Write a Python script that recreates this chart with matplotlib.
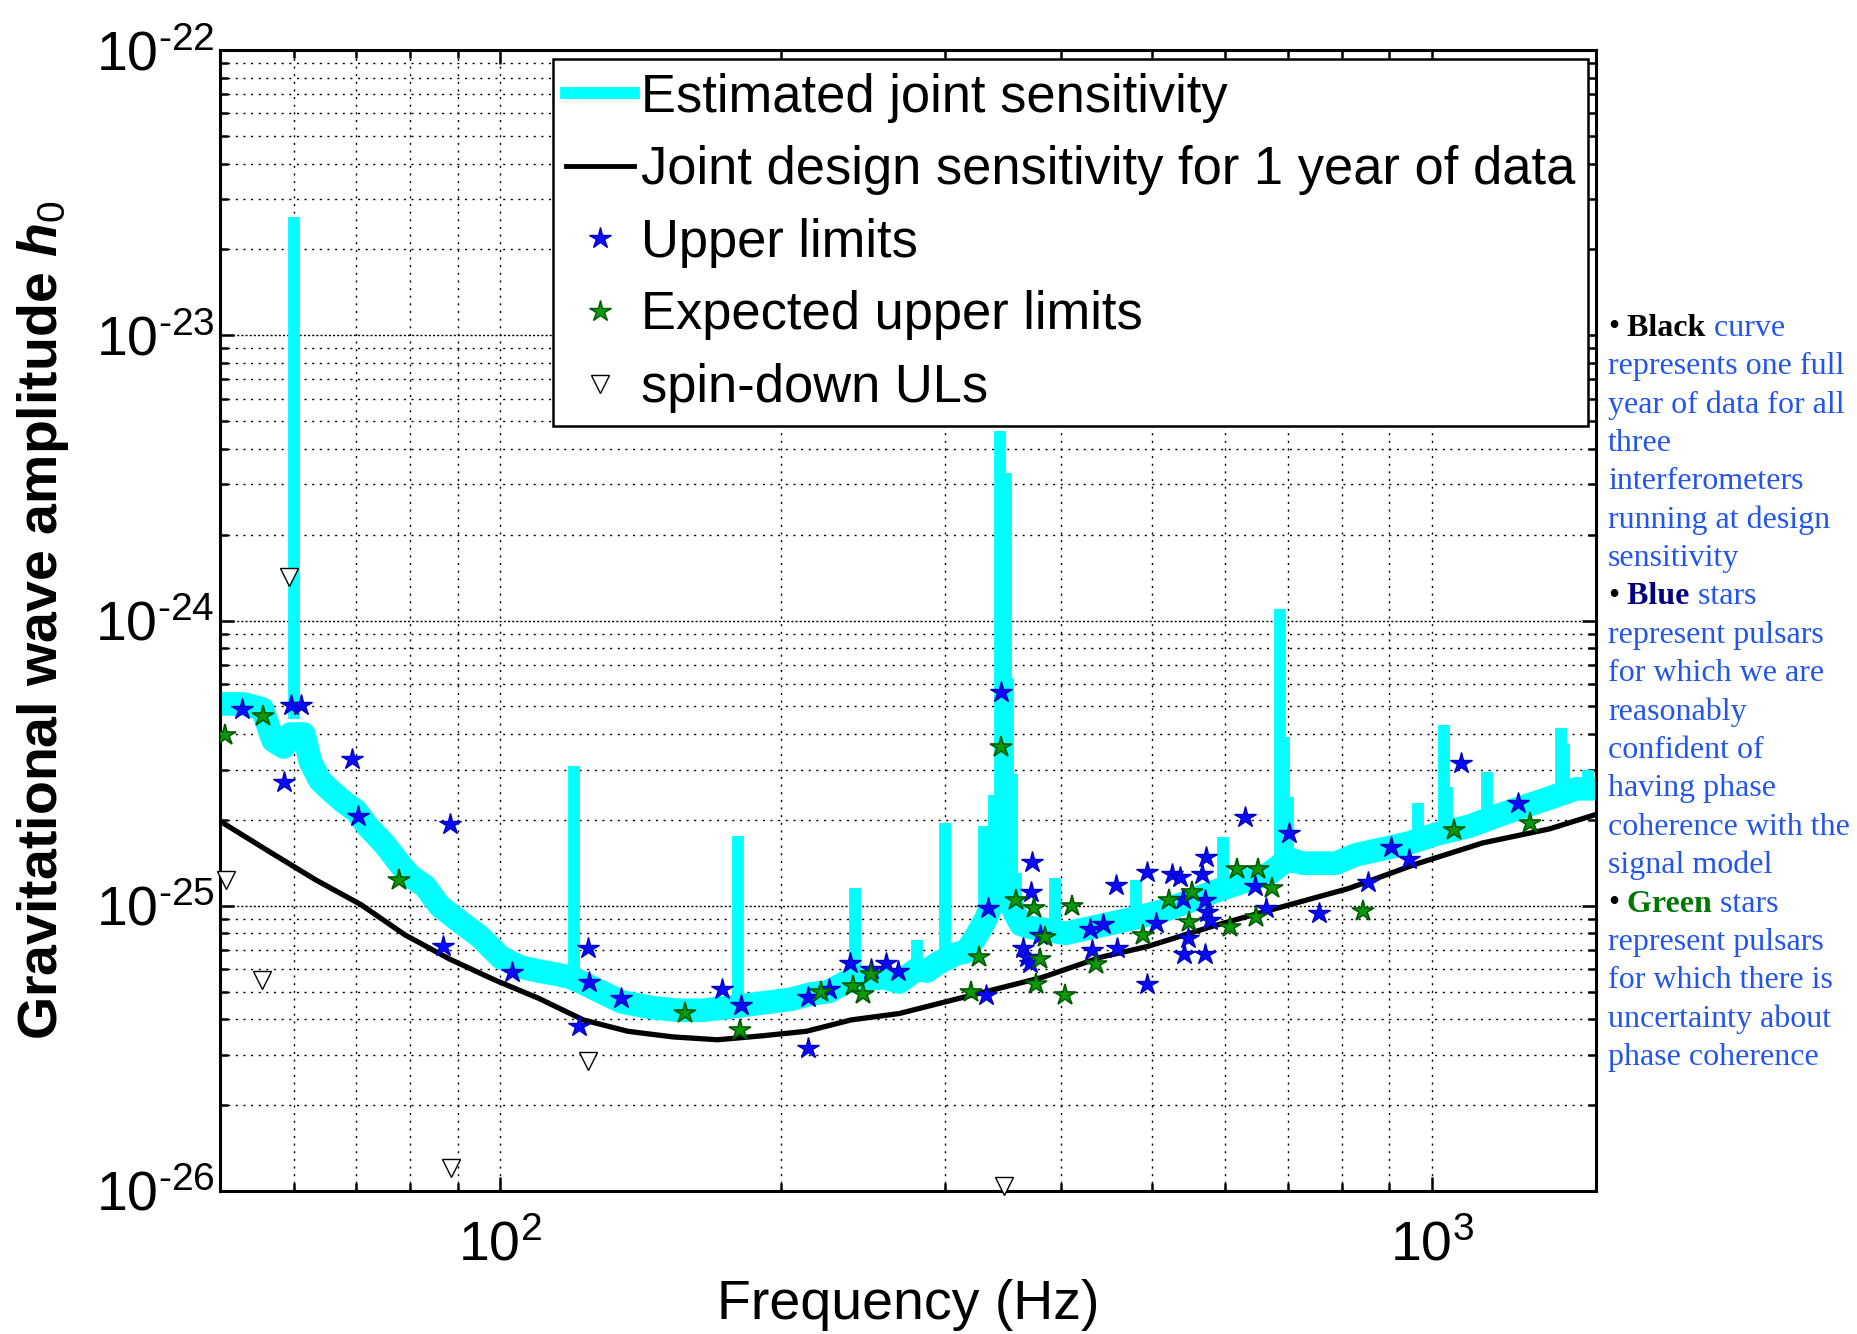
import math
import matplotlib
matplotlib.use('Agg')
import matplotlib.pyplot as plt
from matplotlib.lines import Line2D
from matplotlib.ticker import NullFormatter, FuncFormatter

plt.rcParams['font.family'] = ['Liberation Sans', 'DejaVu Sans']
plt.rcParams['mathtext.fontset'] = 'custom'
plt.rcParams['mathtext.rm'] = 'Liberation Sans'
plt.rcParams['mathtext.it'] = 'Liberation Sans:italic:bold'
plt.rcParams['mathtext.bf'] = 'Liberation Sans:bold'
plt.rcParams['axes.unicode_minus'] = False

# estimated joint sensitivity, centre of the cyan band
band_freq = [50, 53, 55.5, 57, 58.5, 59.5, 61.5, 62.5, 64, 66, 68, 70, 72, 75, 78,
             80, 83, 86, 90, 95, 100, 105, 110, 115, 119, 122, 128, 135, 145, 155,
             165, 175, 185, 195, 205, 215, 225, 235, 245, 258, 268, 280, 287, 295,
             309, 316, 324, 332, 338, 349, 356, 362, 370, 380, 404, 425, 454, 483,
             514, 546, 583, 635, 667, 701, 726, 788, 829, 884, 945, 1009, 1096,
             1191, 1293, 1428, 1500]
band_h = [5.1e-25, 5.1e-25, 4.9e-25, 3.8e-25, 3.6e-25, 4.0e-25, 4.0e-25, 3.2e-25,
          2.75e-25, 2.5e-25, 2.3e-25, 2.15e-25, 1.9e-25, 1.65e-25, 1.4e-25,
          1.27e-25, 1.17e-25, 1.0e-25, 8.9e-26, 7.8e-26, 6.6e-26, 6.1e-26, 5.9e-26,
          5.75e-26, 5.6e-26, 5.4e-26, 5.0e-26, 4.6e-26, 4.4e-26, 4.3e-26, 4.3e-26,
          4.4e-26, 4.5e-26, 4.6e-26, 4.7e-26, 4.9e-26, 5.0e-26, 5.4e-26, 5.5e-26,
          5.6e-26, 5.4e-26, 6.0e-26, 5.9e-26, 6.3e-26, 6.8e-26, 6.9e-26, 7.8e-26,
          9.0e-26, 1.05e-25, 1.2e-25, 9.5e-26, 8.6e-26, 8.4e-26, 8.3e-26, 8.0e-26,
          8.3e-26, 8.7e-26, 9.1e-26, 9.6e-26, 1.03e-25, 1.12e-25, 1.23e-25,
          1.29e-25, 1.46e-25, 1.41e-25, 1.41e-25, 1.51e-25, 1.58e-25, 1.66e-25,
          1.78e-25, 1.9e-25, 2.1e-25, 2.3e-25, 2.57e-25, 2.57e-25]

# narrow lines sticking out of the band
line_freq = [60, 120, 180, 240, 280, 300, 330, 339, 343.5, 348.5, 351, 354, 357.5,
             394, 481, 597, 687, 694, 700, 966, 1030, 1037, 1146, 1376, 1385, 1470]
line_bottom = [4.5e-25, 5.4e-26, 4.5e-26, 5.4e-26, 5.6e-26, 6.3e-26, 8e-26, 1e-25,
               1e-25, 1e-25, 1e-25, 1e-25, 9e-26, 8e-26, 9e-26, 1.15e-25, 1.3e-25,
               1.3e-25, 1.3e-25, 1.65e-25, 1.75e-25, 1.75e-25, 2e-25, 2.45e-25,
               2.45e-25, 2.5e-25]
line_top = [2.6e-23, 3.1e-25, 1.75e-25, 1.15e-25, 7.6e-26, 1.95e-25, 1.9e-25,
            2.45e-25, 4.6e-24, 3.3e-24, 6.3e-25, 2.9e-25, 1.3e-25, 1.25e-25,
            1.23e-25, 1.74e-25, 1.1e-24, 3.9e-25, 2.4e-25, 2.3e-25, 4.3e-25,
            2.6e-25, 2.95e-25, 4.2e-25, 3.7e-25, 3.0e-25]

# joint design sensitivity, 1 year
design_freq = [50, 56.8, 63.4, 70.8, 79, 88.2, 98.5, 110, 122.7, 137, 153, 171, 191,
               213, 238, 268, 300, 340, 381, 441, 495, 583, 689, 814, 961, 1133,
               1337, 1500]
design_h = [1.98e-25, 1.53e-25, 1.23e-25, 1.01e-25, 7.9e-26, 6.5e-26, 5.5e-26,
            4.73e-26, 3.98e-26, 3.63e-26, 3.47e-26, 3.39e-26, 3.5e-26, 3.63e-26,
            3.98e-26, 4.19e-26, 4.6e-26, 5.1e-26, 5.6e-26, 6.6e-26, 7.2e-26,
            8.5e-26, 9.9e-26, 1.15e-25, 1.4e-25, 1.66e-25, 1.86e-25, 2.09e-25]

# upper limits (blue)
ul_freq = [52.8, 59.6, 61.0, 58.6, 69.3, 70.4, 88.2, 86.7, 102.9, 124, 124.4, 121.4,
           134.8, 172.7, 181, 214, 214, 225, 237, 250, 259, 267, 332, 334, 345, 372,
           371, 364, 367, 370, 379, 429, 443, 431, 459, 458, 494, 494, 506, 526, 536,
           540, 566, 572, 570, 574, 578, 541, 570, 547, 630, 646, 663, 702, 757, 854,
           904, 945, 1074, 1236]
ul_h = [4.9e-25, 5.07e-25, 5.07e-25, 2.71e-25, 3.26e-25, 2.07e-25, 1.94e-25, 7.2e-26,
        5.85e-26, 7.1e-26, 5.4e-26, 3.8e-26, 4.73e-26, 5.1e-26, 4.47e-26, 4.8e-26,
        3.16e-26, 5.1e-26, 6.3e-26, 6.0e-26, 6.3e-26, 5.9e-26, 4.87e-26, 9.8e-26,
        5.6e-25, 1.42e-25, 1.12e-25, 7.1e-26, 6.6e-26, 6.3e-26, 7.9e-26, 8.3e-26,
        8.6e-26, 7.0e-26, 7.1e-26, 1.18e-25, 1.31e-25, 5.3e-26, 8.7e-26, 1.29e-25,
        1.26e-25, 1.06e-25, 1.29e-25, 1.48e-25, 1.05e-25, 9.5e-26, 8.9e-26, 6.8e-26,
        6.8e-26, 7.7e-26, 2.04e-25, 1.17e-25, 9.8e-26, 1.8e-25, 9.4e-26, 1.21e-25,
        1.61e-25, 1.46e-25, 3.16e-25, 2.29e-25]

# expected upper limits (green)
exp_freq = [50.6, 55.6, 77.9, 157.9, 180.7, 221, 239, 245, 250, 320, 326, 345, 358,
            374, 376, 379, 384, 404, 411, 436, 490, 522, 548, 552, 607, 617, 647, 650,
            673, 843, 1056, 1275]
exp_h = [3.98e-25, 4.63e-25, 1.23e-25, 4.2e-26, 3.68e-26, 5.0e-26, 5.25e-26, 4.9e-26,
         5.75e-26, 5.0e-26, 6.6e-26, 3.6e-25, 1.05e-25, 9.8e-26, 5.3e-26, 6.5e-26,
         7.8e-26, 4.87e-26, 1.0e-25, 6.25e-26, 7.9e-26, 1.05e-25, 8.75e-26, 1.12e-25,
         8.4e-26, 1.35e-25, 9.1e-26, 1.34e-25, 1.15e-25, 9.6e-26, 1.85e-25, 1.95e-25]

# spin-down upper limits
sd_freq = [59.3, 50.8, 55.5, 88.5, 124, 347]
sd_h = [1.42e-24, 1.23e-25, 5.5e-26, 1.2e-26, 2.86e-26, 1.04e-26]

x_ticks = [100, 1000]
y_ticks = [1e-26, 1e-25, 1e-24, 1e-23, 1e-22]

legend_labels = ['Estimated joint sensitivity',
                 'Joint design sensitivity for 1 year of data',
                 'Upper limits', 'Expected upper limits', 'spin-down ULs']

side_lines = [
    [('•', 'black', 'normal'), (' Black', 'black', 'bold'), (' curve', '#2255ee', 'normal')],
    [('represents one full', '#2255ee', 'normal')],
    [('year of data for all', '#2255ee', 'normal')],
    [('three', '#2255ee', 'normal')],
    [('interferometers', '#2255ee', 'normal')],
    [('running at design', '#2255ee', 'normal')],
    [('sensitivity', '#2255ee', 'normal')],
    [('•', 'black', 'normal'), (' Blue', '#000080', 'bold'), (' stars', '#2255ee', 'normal')],
    [('represent pulsars', '#2255ee', 'normal')],
    [('for which we are', '#2255ee', 'normal')],
    [('reasonably', '#2255ee', 'normal')],
    [('confident of', '#2255ee', 'normal')],
    [('having phase', '#2255ee', 'normal')],
    [('coherence with the', '#2255ee', 'normal')],
    [('signal model', '#2255ee', 'normal')],
    [('•', 'black', 'normal'), (' Green', '#007800', 'bold'), (' stars', '#2255ee', 'normal')],
    [('represent pulsars', '#2255ee', 'normal')],
    [('for which there is', '#2255ee', 'normal')],
    [('uncertainty about', '#2255ee', 'normal')],
    [('phase coherence', '#2255ee', 'normal')],
]


def pow10(v, pos):
    e = int(round(math.log10(v)))
    return r'$10^{%s}$' % str(e).replace('-', r'\text{-}')


fig = plt.figure(figsize=(18.57, 13.34), dpi=100)
ax = fig.add_axes([0.1185, 0.1072, 0.7410, 0.8553])

ax.plot(band_freq, band_h, color='cyan', lw=17, solid_joinstyle='round',
        solid_capstyle='butt', zorder=2)
ax.vlines(line_freq, line_bottom, line_top, color='cyan', lw=8.5, zorder=2)
ax.plot(design_freq, design_h, color='black', lw=3.8, zorder=3)
ax.plot(ul_freq, ul_h, ls='none', marker='*', ms=16, mfc='#0a0aff', mec='#0000c0',
        mew=1, zorder=4)
ax.plot(exp_freq, exp_h, ls='none', marker='*', ms=16, mfc='#0a9a0a', mec='#005a00',
        mew=1.2, zorder=4)
ax.plot(sd_freq, sd_h, ls='none', marker='v', ms=13, mfc='white', mec='black',
        mew=1, zorder=4, clip_on=False)

ax.set_xscale('log')
ax.set_yscale('log')
ax.set_xlim(50, 1500)
ax.set_ylim(1e-26, 1e-22)
ax.set_xticks(x_ticks)
ax.set_yticks(y_ticks)
ax.xaxis.set_major_formatter(FuncFormatter(pow10))
ax.yaxis.set_major_formatter(FuncFormatter(pow10))
ax.xaxis.set_minor_formatter(NullFormatter())
ax.yaxis.set_minor_formatter(NullFormatter())

ax.set_axisbelow(True)
ax.grid(True, which='minor', color='black', lw=1.0, ls=(0, (1.5, 4)))
ax.grid(True, which='major', axis='x', color='black', lw=1.0, ls=(0, (1.5, 4)))
ax.grid(True, which='major', axis='y', color='black', lw=1.0, ls=(0, (1.5, 1.5)))

for s in ax.spines.values():
    s.set_linewidth(2.2)
ax.tick_params(which='both', direction='in', top=True, right=True, width=1.8)
ax.tick_params(which='major', length=10)
ax.tick_params(which='minor', length=6)
ax.tick_params(axis='x', which='major', labelsize=40, pad=21)
ax.tick_params(axis='y', which='major', labelsize=40, pad=4)

ax.set_xlabel('Frequency (Hz)', fontsize=40)
ax.xaxis.set_label_coords(0.5, -0.077)
ax.set_ylabel(r'Gravitational wave amplitude $h_{\mathit{0}}$', fontsize=40,
              fontweight='bold')
ax.yaxis.set_label_coords(-0.108, 0.5)

handles = [Line2D([], [], color='cyan', lw=8.5),
           Line2D([], [], color='black', lw=3.5),
           Line2D([], [], ls='none', marker='*', ms=16, mfc='#0a0aff', mec='#0000c0'),
           Line2D([], [], ls='none', marker='*', ms=16, mfc='#0a9a0a', mec='#005a00'),
           Line2D([], [], ls='none', marker='v', ms=13, mfc='white', mec='black')]
leg = ax.legend(handles, legend_labels, loc='upper right',
                bbox_to_anchor=(0.9942, 0.9917), borderaxespad=0, fontsize=37.8,
                handlelength=1.3, handletextpad=0.12, labelspacing=0.43,
                borderpad=0.25, fancybox=False, framealpha=1, edgecolor='black')
leg.get_frame().set_linewidth(1.8)

# side notes, coloured pieces placed one after another
fig.canvas.draw()
renderer = fig.canvas.get_renderer()
x0 = 1608 / 1857
for i, parts in enumerate(side_lines):
    y = 1 - (328 + i * 38.4) / 1334
    x = x0
    for txt, col, wt in parts:
        t = fig.text(x, y, txt, color=col, fontweight=wt, fontsize=23,
                     family='Liberation Serif', ha='left', va='center')
        x = t.get_window_extent(renderer).x1 / fig.bbox.width

fig.savefig('out.png', dpi=100)
